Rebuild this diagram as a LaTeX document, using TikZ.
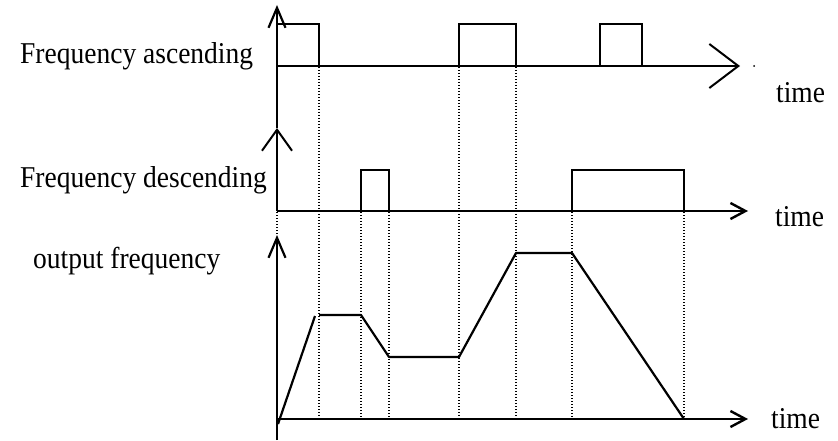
\documentclass[tikz,border=0pt]{standalone}
\usepackage{fontspec}
\setmainfont{Liberation Serif}
\usetikzlibrary{arrows.meta}

\newcommand{\tallstr}[1]{\scalebox{1}[1.1]{#1}}

\tikzset{
  axisline/.style={line width=2.4pt, black},
  pulse/.style={line width=2pt, black},
  curve/.style={line width=2.2pt, black},
  guide/.style={line width=1.3pt, black, dash pattern=on 1.1pt off 1.9pt},
  vbarb/.style={-{Straight Barb[length=20pt,width=17pt,line width=2.2pt]}},
  bigbarb/.style={-{Straight Barb[length=29pt,width=44pt,line width=2pt]}},
  hbarb/.style={-{Straight Barb[length=15pt,width=16pt,line width=2.4pt]}},
  label/.style={anchor=base west, inner sep=0pt, font=\fontsize{27.5}{32}\selectfont},
}

\begin{document}
\begin{tikzpicture}[x=1pt, y=-1pt]
  \useasboundingbox (0,0) rectangle (838,441);

  % ---------- frequency ascending ----------
  \coordinate (ua0) at (277,128);
  \coordinate (ua1) at (277,5);
  \coordinate (ut0) at (277,66);
  \coordinate (ut1) at (740,66);
  \draw[axisline, vbarb] (ua0) -- (ua1);
  \draw[line width=2pt, bigbarb] (ut0) -- (ut1);
  \fill (754,66) circle (1pt);
  \draw[pulse] (277,24) -- (319,24) -- (319,66);
  \draw[pulse] (459,66) -- (459,24) -- (516,24) -- (516,66);
  \draw[pulse] (600,66) -- (600,24) -- (642,24) -- (642,66);
  \node[label] (lup) at (20,64) {\tallstr{Frequency ascending}};
  \node[label] (tup) at (776,103) {\tallstr{time}};

  % ---------- frequency descending ----------
  \coordinate (da0) at (277,211);
  \coordinate (da1) at (277,128);
  \coordinate (dt0) at (277,211);
  \coordinate (dt1) at (748,211);
  \draw[axisline, -{Straight Barb[length=21pt,width=30pt,line width=2pt]}] (da0) -- (da1);
  \draw[axisline, hbarb] (dt0) -- (dt1);
  \draw[pulse] (361,211) -- (361,170) -- (389,170) -- (389,211);
  \draw[pulse] (572,211) -- (572,170) -- (684,170) -- (684,211);
  \node[label] (ldn) at (20,187) {\tallstr{Frequency descending}};
  \node[label] (tdn) at (775,226) {\tallstr{time}};

  % ---------- output frequency ----------
  \coordinate (oa0) at (277,440);
  \coordinate (oa1) at (277,235);
  \coordinate (ot0) at (277,419);
  \coordinate (ot1) at (748,419);
  \draw[axisline, vbarb] (oa0) -- (oa1);
  \draw[axisline, hbarb] (ot0) -- (ot1);
  \draw[curve] (278,424) -- (315,316);
  \draw[curve, line join=round] (319,315) -- (361,315) -- (389,357) -- (459,357)
        -- (516,253) -- (572,253) -- (684,419);
  \node[label] (lout) at (33,268) {\tallstr{output frequency}};
  \node[label] (tout) at (771,428) {\tallstr{time}};

  % ---------- vertical guides ----------
  \draw[guide] (277,212) -- (277,236);
  \foreach \gx in {319,459,516}
    \draw[guide] (\gx,67) -- (\gx,418);
  \foreach \gx in {361,389,572,684}
    \draw[guide] (\gx,212) -- (\gx,418);
\end{tikzpicture}
\end{document}
